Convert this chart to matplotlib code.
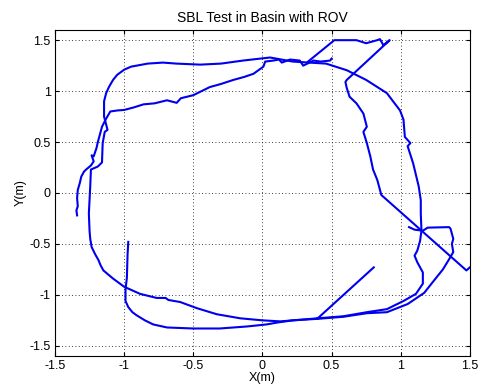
import matplotlib
matplotlib.use("Agg")
import matplotlib.pyplot as plt

# track pieces (metres)
upper_x = [-1.34, -1.345, -1.335, -1.34, -1.335, -1.32, -1.31, -1.29, -1.275, -1.24, -1.22, -1.235, -1.22,
           -1.21, -1.20, -1.19, -1.18, -1.16, -1.13, -1.10, -1.05, -1.0, -0.93, -0.86, -0.78, -0.69, -0.62,
           -0.59, -0.5, -0.44, -0.38, -0.3, -0.21, -0.13, -0.065, 0.007, 0.02, 0.08, 0.12, 0.14, 0.16, 0.2,
           0.27, 0.295, 0.37, 0.42, 0.49, 0.5]
upper_y = [-0.22, -0.17, -0.13, -0.05, 0.03, 0.1, 0.16, 0.21, 0.23, 0.27, 0.31, 0.37, 0.36,
           0.4, 0.44, 0.5, 0.55, 0.65, 0.73, 0.80, 0.81, 0.815, 0.84, 0.87, 0.88, 0.91, 0.885,
           0.93, 0.96, 1.0, 1.04, 1.07, 1.11, 1.14, 1.17, 1.24, 1.29, 1.30, 1.31, 1.28, 1.29, 1.31,
           1.30, 1.25, 1.30, 1.29, 1.30, 1.32]

outer_x = [0.40, 0.31, 0.22, 0.13, 0.0, -0.16, -0.33, -0.475, -0.595, -0.68, -0.7, -0.765, -0.885,
           -1.0, -1.08, -1.15, -1.17, -1.185, -1.21, -1.235, -1.245, -1.25, -1.255, -1.25, -1.245,
           -1.24, -1.19, -1.16, -1.155, -1.14, -1.12, -1.145, -1.145, -1.13, -1.11, -1.08, -1.05,
           -1.0, -0.95, -0.83, -0.72, -0.62, -0.45, -0.30, -0.14, 0.055, 0.22, 0.46, 0.61, 0.75,
           0.9, 0.995, 1.02, 1.03, 1.07, 1.05, 1.09, 1.13, 1.145, 1.145, 1.15, 1.14, 1.12, 1.10,
           1.12, 1.16, 1.16, 1.11, 1.02, 0.9, 0.755, 0.585, 0.40]
outer_y = [-1.23, -1.24, -1.25, -1.26, -1.25, -1.23, -1.19, -1.13, -1.07, -1.05, -1.03, -1.03, -0.99,
           -0.92, -0.84, -0.76, -0.71, -0.66, -0.6, -0.53, -0.45, -0.37, -0.2, -0.07, 0.065,
           0.23, 0.26, 0.30, 0.49, 0.6, 0.62, 0.75, 0.90, 0.98, 1.04, 1.11, 1.16,
           1.21, 1.24, 1.27, 1.28, 1.27, 1.26, 1.27, 1.30, 1.33, 1.29, 1.27, 1.205, 1.11,
           0.98, 0.81, 0.72, 0.55, 0.49, 0.46, 0.29, 0.065, -0.07, -0.20, -0.37, -0.47, -0.565, -0.615,
           -0.68, -0.78, -0.89, -0.99, -1.06, -1.14, -1.17, -1.21, -1.23]

lower_x = [-0.97, -0.975, -0.98, -0.99, -0.99, -0.97, -0.94, -0.91, -0.85, -0.79, -0.69, -0.5, -0.31,
           -0.11, 0.03, 0.115, 0.22, 0.40, 0.585, 0.755, 0.9, 1.05, 1.17, 1.24, 1.305, 1.35, 1.38,
           1.37, 1.38, 1.36, 1.35, 1.195, 1.16, 1.10, 1.06]
lower_y = [-0.48, -0.6, -0.83, -0.95, -1.06, -1.12, -1.17, -1.2, -1.25, -1.29, -1.32, -1.33, -1.33,
           -1.31, -1.29, -1.27, -1.25, -1.235, -1.215, -1.18, -1.17, -1.09, -0.98, -0.86, -0.75, -0.65, -0.58,
           -0.5, -0.45, -0.35, -0.335, -0.34, -0.37, -0.36, -0.335]

spike_x = [0.40, 0.805]
spike_y = [-1.23, -0.73]

right_x = [0.33, 0.52, 0.68, 0.75, 0.83, 0.85, 0.875, 0.92, 0.61, 0.60, 0.61, 0.63, 0.68, 0.73,
           0.755, 0.73, 0.755, 0.78, 0.80, 0.83, 0.86, 1.475, 1.5]
right_y = [1.29, 1.50, 1.50, 1.47, 1.50, 1.51, 1.45, 1.50, 1.11, 1.09, 1.03, 0.945, 0.88, 0.78,
           0.65, 0.60, 0.49, 0.36, 0.23, 0.13, -0.02, -0.76, -0.73]

ticks = [-1.5, -1, -0.5, 0, 0.5, 1, 1.5]
tick_labels = ["-1.5", "-1", "-0.5", "0", "0.5", "1", "1.5"]

plt.rcParams["font.family"] = ["Liberation Sans", "DejaVu Sans"]
fig = plt.figure(figsize=(4.78, 3.91), dpi=100)
ax = fig.add_axes([0.115, 0.0895, 0.868, 0.8338])

for xs, ys in [(upper_x, upper_y), (outer_x, outer_y), (lower_x, lower_y),
               (spike_x, spike_y), (right_x, right_y)]:
    ax.plot(xs, ys, color="#0000ee", linewidth=1.5)

ax.set_xlim(-1.5, 1.5)
ax.set_ylim(-1.6, 1.6)
ax.set_xticks(ticks)
ax.set_xticklabels(tick_labels)
ax.set_yticks(ticks)
ax.set_yticklabels(tick_labels)
ax.tick_params(direction="in", top=True, right=True, labelsize=9, length=3, pad=3)
ax.grid(True, color="black", linestyle=(0, (1, 3)), linewidth=0.6)
for spine in ax.spines.values():
    spine.set_linewidth(0.8)
ax.set_xlabel("X(m)", fontsize=9, labelpad=0)
ax.set_ylabel("Y(m)", fontsize=9, labelpad=2)
ax.set_title("SBL Test in Basin with ROV", fontsize=10, pad=6)

fig.savefig("out.png", dpi=100)
